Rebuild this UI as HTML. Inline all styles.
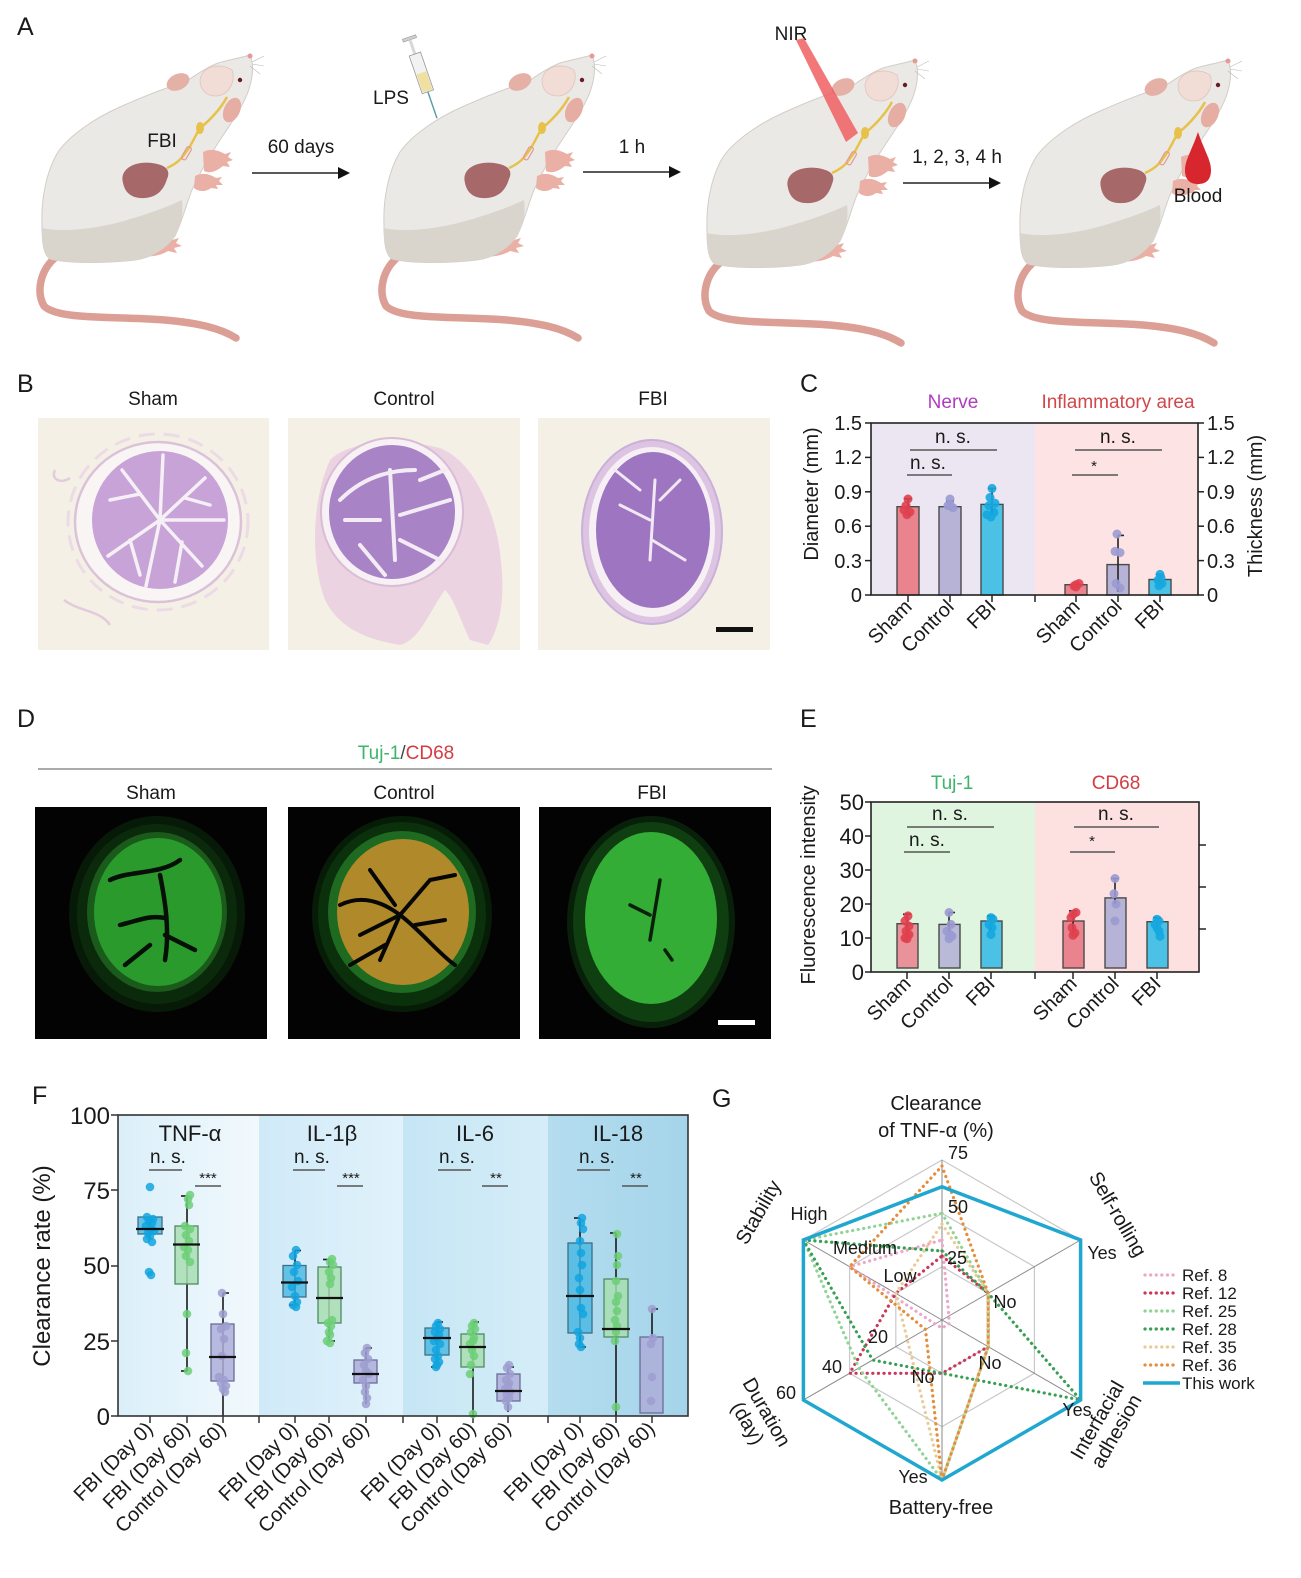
<!DOCTYPE html>
<html><head><meta charset="utf-8"><style>
html,body{margin:0;padding:0;background:#fff}
svg{display:block}
text{font-family:"Liberation Sans",Arial,sans-serif;fill:#1a1a1a}
</style></head><body>
<svg width="1301" height="1578" viewBox="0 0 1301 1578" xmlns="http://www.w3.org/2000/svg">
<defs>
<g id="rat">
<path d="M56,257 C40,270 36,292 44,306 C58,320 112,316 165,320 C198,323 220,328 236,338" fill="none" stroke="#dc9f95" stroke-width="7.5" stroke-linecap="round"/>
<path d="M140,245 C150,238 165,236 172,240 L179,238 L176,243 L182,246 L174,248 L177,253 L168,251 C160,256 148,258 140,255 Z" fill="#eab0a6"/>
<path d="M250,55 C240,58 228,60 218,63 C205,68 195,76 185,82 C165,88 140,98 120,107 C95,118 70,135 58,152 C46,172 41,200 42,225 C42,245 44,255 50,259 C70,264 110,263 135,260 C150,258 165,250 175,236 C182,222 186,205 192,190 C200,172 210,155 220,140 C230,125 242,108 248,92 C253,78 254,65 250,55 Z" fill="#ebe9e6" stroke="#d2cdc6"/>
<path d="M42,228 C60,232 90,230 120,222 C145,215 165,208 182,200 C184,215 180,228 175,236 C165,250 150,258 135,260 C110,263 70,264 50,259 C44,255 42,245 42,228 Z" fill="#dad5cc"/>
<path d="M203,152 C210,148 218,150 225,154 L231,152 L228,157 L233,160 L227,162 L230,167 L223,166 C217,171 210,174 204,171 Z" fill="#eab0a6"/>
<path d="M195,176 C202,172 210,174 216,178 L222,177 L219,181 L223,185 L216,185 L218,189 L211,188 C206,192 199,192 194,188 Z" fill="#eab0a6"/>
<ellipse cx="178" cy="82" rx="12" ry="8" transform="rotate(-25 178 82)" fill="#e5b1a7"/>
<path d="M200,80 C202,66 220,62 232,70 C236,80 230,95 216,96 C206,96 200,90 200,80 Z" fill="#f1dcd6" stroke="#e0c4bc" stroke-width="0.8"/>
<ellipse cx="232" cy="110" rx="8" ry="13" transform="rotate(25 232 110)" fill="#e6ada3"/>
<circle cx="240" cy="80" r="2.2" fill="#6a1a20"/>
<circle cx="250" cy="56" r="2.5" fill="#e59a98"/>
<path d="M227,97 C220,110 208,122 200,128 C194,138 190,148 186,152 C182,158 178,163 167,168" fill="none" stroke="#e6c24a" stroke-width="2.5"/>
<ellipse cx="200" cy="128" rx="4" ry="6" fill="#e6c24a"/>
<rect x="184" y="146" width="5" height="14" rx="2" fill="none" stroke="#e39a9a" stroke-width="1.2" transform="rotate(30 186 153)"/>
<path d="M123,183 C119,168 136,161 152,163 C166,165 171,170 167,179 C164,189 158,197 145,198 C132,199 125,193 123,183 Z" fill="#a66868"/>
<path d="M252,62 l12,-6 M252,64 l12,2 M250,66 l10,8" stroke="#bbb" stroke-width="0.6" fill="none"/>
</g>
<linearGradient id="f1" x1="0" x2="1" y1="0" y2="0"><stop offset="0" stop-color="#dbeff9"/><stop offset="1" stop-color="#f1f9fd"/></linearGradient>
<linearGradient id="f2" x1="0" x2="1" y1="0" y2="0"><stop offset="0" stop-color="#d0eaf8"/><stop offset="1" stop-color="#e1f2fb"/></linearGradient>
<linearGradient id="f3" x1="0" x2="1" y1="0" y2="0"><stop offset="0" stop-color="#c6e6f5"/><stop offset="1" stop-color="#d5edf8"/></linearGradient>
<linearGradient id="f4" x1="0" x2="1" y1="0" y2="0"><stop offset="0" stop-color="#b4ddef"/><stop offset="1" stop-color="#a5d4ea"/></linearGradient>
</defs>

<!-- ===== Panel A ===== -->
<text x="17" y="35" font-size="25">A</text>
<use href="#rat"/>
<use href="#rat" transform="translate(342,0)"/>
<use href="#rat" transform="translate(665,5)"/>
<use href="#rat" transform="translate(978,5)"/>
<text x="162" y="147" font-size="19" text-anchor="middle">FBI</text>
<text x="301" y="153" font-size="19" text-anchor="middle">60 days</text>
<line x1="252" y1="173" x2="340" y2="173" stroke="#222" stroke-width="1.6"/>
<polygon points="338,167 350,173 338,179" fill="#111"/>
<text x="391" y="104" font-size="19" text-anchor="middle">LPS</text>
<g transform="translate(409,37) rotate(-19)">
<rect x="-7" y="0" width="14" height="3" fill="#cfcfcf" stroke="#999" stroke-width="0.6"/>
<rect x="-1.5" y="3" width="3" height="15" fill="#d8d8d8"/>
<rect x="-6" y="18" width="12" height="40" fill="#f2f2f2" stroke="#9a9a9a" stroke-width="0.8"/>
<rect x="-5" y="38" width="10" height="19" fill="#f0e0a0"/>
<rect x="-0.7" y="58" width="1.4" height="28" fill="#5a9aa0"/>
</g>
<text x="632" y="153" font-size="19" text-anchor="middle">1 h</text>
<line x1="583" y1="172" x2="671" y2="172" stroke="#222" stroke-width="1.6"/>
<polygon points="669,166 681,172 669,178" fill="#111"/>
<text x="791" y="40" font-size="19" text-anchor="middle">NIR</text>
<polygon points="796,40 804,38 858,133 846,142" fill="#ef5f62" fill-opacity="0.85"/>
<text x="957" y="163" font-size="19" text-anchor="middle">1, 2, 3, 4 h</text>
<line x1="903" y1="183" x2="991" y2="183" stroke="#222" stroke-width="1.6"/>
<polygon points="989,177 1001,183 989,189" fill="#111"/>
<path d="M1198,132 C1192,150 1185,160 1185,170 C1185,180 1190,184 1198,184 C1206,184 1211,180 1211,170 C1211,160 1204,150 1198,132 Z" fill="#d8262e"/>
<text x="1198" y="202" font-size="19" text-anchor="middle">Blood</text>

<!-- ===== Panel B ===== -->
<text x="17" y="392" font-size="25">B</text>
<text x="153" y="405" font-size="19" text-anchor="middle">Sham</text>
<text x="404" y="405" font-size="19" text-anchor="middle">Control</text>
<text x="653" y="405" font-size="19" text-anchor="middle">FBI</text>
<rect x="38" y="418" width="231" height="232" fill="#f5f0e6"/>
<rect x="288" y="418" width="232" height="232" fill="#f5f0e6"/>
<rect x="538" y="418" width="232" height="232" fill="#f5f0e6"/>
<!-- sham -->
<ellipse cx="158" cy="522" rx="90" ry="88" fill="none" stroke="#ecdbe6" stroke-width="3" stroke-dasharray="16 9"/>
<ellipse cx="158" cy="522" rx="83" ry="80" fill="#f9f5f4" stroke="#dcc2d8" stroke-width="2.5"/>
<ellipse cx="160" cy="520" rx="68" ry="69" fill="#c7a3d7"/>
<g stroke="#f6f0f6" stroke-width="3.5" fill="none" stroke-linecap="round">
<path d="M160,520 L122,470 M160,520 L205,478 M160,520 L108,556 M160,520 L202,566 M160,520 L163,455 M160,520 L146,586 M160,520 L224,520 M140,494 L110,500 M185,498 L210,505 M130,540 L140,575 M182,542 L175,582"/>
</g>
<path d="M55,470 C50,480 62,484 70,478 M64,600 C80,612 100,610 110,625" stroke="#e2cbdd" stroke-width="2.5" fill="none"/>
<!-- control -->
<path d="M330,460 C350,440 400,438 440,448 C470,460 490,500 498,540 C505,580 505,620 488,645 L470,640 C460,620 455,600 445,590 C430,610 420,640 400,645 C370,640 340,630 325,600 C310,560 312,500 330,460 Z" fill="#ecd3e2"/>
<ellipse cx="392" cy="512" rx="71" ry="74" fill="#f7f0f4" stroke="#d9bcd6" stroke-width="2"/>
<ellipse cx="392" cy="512" rx="63" ry="67" fill="#a884c7"/>
<g stroke="#f4ecf4" stroke-width="4" fill="none" stroke-linecap="round">
<path d="M340,500 C360,480 385,470 415,470 M390,470 L395,560 M345,520 L380,520 M400,515 L450,500 M400,540 L440,560 M360,545 L385,575 M420,480 L445,470"/>
</g>
<!-- fbi -->
<ellipse cx="652" cy="532" rx="70" ry="92" fill="#dcc4e2" stroke="#c9b0d8" stroke-width="2"/>
<ellipse cx="652" cy="532" rx="63" ry="85" fill="#f6eff4"/>
<ellipse cx="653" cy="530" rx="57" ry="78" fill="#9e75c1"/>
<g stroke="#f1e8f3" stroke-width="3" fill="none" stroke-linecap="round">
<path d="M655,480 L650,560 M650,520 L620,505 M652,540 L685,560 M660,500 L680,480 M615,470 L640,490"/>
</g>
<rect x="716" y="627" width="37" height="5" fill="#111"/>

<!-- ===== Panel C ===== -->
<text x="800" y="392" font-size="25">C</text>
<text x="953" y="408" font-size="19" text-anchor="middle" style="fill:#b03cc0">Nerve</text>
<text x="1118" y="408" font-size="19" text-anchor="middle" style="fill:#d2474b">Inflammatory area</text>
<rect x="871" y="423" width="164" height="172" fill="#ebe6f1"/>
<rect x="1035" y="423" width="163" height="172" fill="#fde3e3"/>
<g stroke="#222" stroke-width="1.5">
<line x1="865" y1="423" x2="871" y2="423"/><line x1="865" y1="457.4" x2="871" y2="457.4"/><line x1="865" y1="491.8" x2="871" y2="491.8"/><line x1="865" y1="526.2" x2="871" y2="526.2"/><line x1="865" y1="560.6" x2="871" y2="560.6"/><line x1="865" y1="595" x2="871" y2="595"/>
<line x1="1198" y1="423" x2="1204" y2="423"/><line x1="1198" y1="457.4" x2="1204" y2="457.4"/><line x1="1198" y1="491.8" x2="1204" y2="491.8"/><line x1="1198" y1="526.2" x2="1204" y2="526.2"/><line x1="1198" y1="560.6" x2="1204" y2="560.6"/><line x1="1198" y1="595" x2="1204" y2="595"/>
<line x1="908" y1="595" x2="908" y2="602"/><line x1="950" y1="595" x2="950" y2="602"/><line x1="992" y1="595" x2="992" y2="602"/><line x1="1035" y1="595" x2="1035" y2="602"/><line x1="1076" y1="595" x2="1076" y2="602"/><line x1="1118" y1="595" x2="1118" y2="602"/><line x1="1160" y1="595" x2="1160" y2="602"/>
</g>
<g font-size="20" text-anchor="end">
<text x="862" y="430">1.5</text><text x="862" y="464">1.2</text><text x="862" y="499">0.9</text><text x="862" y="533">0.6</text><text x="862" y="568">0.3</text><text x="862" y="602">0</text>
</g>
<g font-size="20">
<text x="1207" y="430">1.5</text><text x="1207" y="464">1.2</text><text x="1207" y="499">0.9</text><text x="1207" y="533">0.6</text><text x="1207" y="568">0.3</text><text x="1207" y="602">0</text>
</g>
<text transform="translate(818,494) rotate(-90)" font-size="20" text-anchor="middle">Diameter (mm)</text>
<text transform="translate(1262,506) rotate(-90)" font-size="20" text-anchor="middle">Thickness (mm)</text>
<g stroke="#4a4a4a" stroke-width="1.4">
<rect x="897" y="506.7" width="22" height="88.3" fill="#e9848f"/>
<rect x="939" y="506.7" width="22" height="88.3" fill="#b6b3d6"/>
<rect x="981" y="504.4" width="22" height="90.6" fill="#4cc1e6"/>
<rect x="1065" y="584.7" width="22" height="10.3" fill="#e9848f"/>
<rect x="1107" y="564.6" width="22" height="30.4" fill="#b6b3d6"/>
<rect x="1149" y="579.5" width="22" height="15.5" fill="#4cc1e6"/>
</g>
<g stroke="#222" stroke-width="1.6">
<line x1="908" y1="514.7" x2="908" y2="498.7"/><line x1="904" y1="498.7" x2="912" y2="498.7"/>
<line x1="950" y1="510" x2="950" y2="501"/><line x1="946" y1="501" x2="954" y2="501"/>
<line x1="992" y1="514.7" x2="992" y2="488.4"/><line x1="988" y1="488.4" x2="996" y2="488.4"/>
<line x1="1118" y1="592" x2="1118" y2="535.4"/><line x1="1118" y1="535.4" x2="1124" y2="535.4"/>
<line x1="1160" y1="584.7" x2="1160" y2="574.4"/><line x1="1156" y1="574.4" x2="1164" y2="574.4"/>
</g>
<g fill="#e0404f" fill-opacity="0.9"><circle cx="908" cy="499" r="4.5"/><circle cx="906" cy="505.6" r="4.5"/><circle cx="910" cy="512" r="4.5"/><circle cx="907" cy="514.7" r="4.5"/><circle cx="904" cy="510" r="4.5"/>
<circle cx="1076" cy="584.7" r="4.5"/><circle cx="1074" cy="586" r="4.5"/><circle cx="1079" cy="583.5" r="4.5"/><circle cx="1076" cy="587" r="4.5"/></g>
<g fill="#9b9ad1" fill-opacity="0.9"><circle cx="950" cy="499" r="4.5"/><circle cx="948" cy="505.6" r="4.5"/><circle cx="953" cy="507.8" r="4.5"/><circle cx="950" cy="504.4" r="4.5"/>
<circle cx="1117" cy="534" r="4.5"/><circle cx="1115" cy="551.4" r="4.5"/><circle cx="1120" cy="552.6" r="4.5"/><circle cx="1116" cy="583.5" r="4.5"/><circle cx="1120" cy="588" r="4.5"/></g>
<g fill="#16a7df" fill-opacity="0.9"><circle cx="992" cy="488.4" r="4.5"/><circle cx="990" cy="497.5" r="4.5"/><circle cx="995" cy="503.3" r="4.5"/><circle cx="989" cy="505.6" r="4.5"/><circle cx="994" cy="512.4" r="4.5"/><circle cx="991" cy="517" r="4.5"/><circle cx="987" cy="514.7" r="4.5"/>
<circle cx="1160" cy="574.4" r="4.5"/><circle cx="1158" cy="580.1" r="4.5"/><circle cx="1162" cy="583.5" r="4.5"/><circle cx="1159" cy="585.8" r="4.5"/><circle cx="1161" cy="577.8" r="4.5"/></g>
<rect x="871" y="423" width="327" height="172" fill="none" stroke="#222" stroke-width="1.6"/>
<g stroke="#555" stroke-width="1.5">
<line x1="910" y1="450" x2="997" y2="450"/><line x1="907" y1="475" x2="952" y2="475"/>
<line x1="1075" y1="450" x2="1162" y2="450"/><line x1="1072" y1="475" x2="1118" y2="475"/>
</g>
<g font-size="19" text-anchor="middle">
<text x="953" y="443">n. s.</text><text x="928" y="469">n. s.</text>
<text x="1118" y="443">n. s.</text><text x="1094" y="471" font-size="15">*</text>
</g>
<g font-size="20" text-anchor="end">
<text transform="translate(913,608) rotate(-45)">Sham</text>
<text transform="translate(955,608) rotate(-45)">Control</text>
<text transform="translate(997,608) rotate(-45)">FBI</text>
<text transform="translate(1081,608) rotate(-45)">Sham</text>
<text transform="translate(1123,608) rotate(-45)">Control</text>
<text transform="translate(1165,608) rotate(-45)">FBI</text>
</g>

<!-- ===== Panel D ===== -->
<text x="17" y="727" font-size="25">D</text>
<text x="406" y="759" font-size="19" text-anchor="middle"><tspan style="fill:#3cb46a">Tuj-1</tspan><tspan style="fill:#444">/</tspan><tspan style="fill:#d43c42">CD68</tspan></text>
<line x1="38" y1="769" x2="772" y2="769" stroke="#777" stroke-width="1.3"/>
<text x="151" y="799" font-size="19" text-anchor="middle">Sham</text>
<text x="404" y="799" font-size="19" text-anchor="middle">Control</text>
<text x="652" y="799" font-size="19" text-anchor="middle">FBI</text>
<rect x="35" y="807" width="232" height="232" fill="#040303"/>
<rect x="288" y="807" width="232" height="232" fill="#040303"/>
<rect x="539" y="807" width="232" height="232" fill="#040303"/>
<ellipse cx="157" cy="914" rx="88" ry="98" fill="#071a07"/>
<ellipse cx="157" cy="914" rx="80" ry="90" fill="#0b2a0b"/>
<ellipse cx="157" cy="912" rx="70" ry="80" fill="#1a5a1a"/>
<ellipse cx="158" cy="912" rx="64" ry="74" fill="#2a9a2c"/>
<g stroke="#061006" stroke-width="4.5" fill="none" stroke-linecap="round">
<path d="M110,880 C130,870 160,875 180,860 M160,875 C165,900 170,930 165,960 M120,925 C140,920 150,915 165,918 M165,935 L195,950 M150,945 L125,965"/>
</g>
<ellipse cx="402" cy="914" rx="90" ry="98" fill="#071c07"/>
<ellipse cx="402" cy="914" rx="84" ry="92" fill="#0b300c"/>
<ellipse cx="402" cy="912" rx="74" ry="81" fill="#1e6a20"/>
<ellipse cx="403" cy="912" rx="66" ry="73" fill="#b08a2a"/>
<g stroke="#070806" stroke-width="4" fill="none" stroke-linecap="round">
<path d="M340,905 C360,895 380,900 400,915 C420,930 440,955 455,965 M400,915 L380,960 M400,915 L430,880 M400,915 L360,935 M370,870 L395,905 M415,925 L445,920 M385,945 L350,965 M430,880 L455,875"/>
</g>
<ellipse cx="651" cy="922" rx="84" ry="106" fill="#08200a"/>
<ellipse cx="651" cy="922" rx="78" ry="100" fill="#0f3e10"/>
<ellipse cx="651" cy="918" rx="66" ry="86" fill="#33ad35"/>
<g stroke="#0a200a" stroke-width="3.5" fill="none" stroke-linecap="round">
<path d="M660,880 L650,940 M650,915 L630,905 M665,950 L672,960"/>
</g>
<rect x="718" y="1020" width="37" height="5" fill="#fff"/>

<!-- ===== Panel E ===== -->
<text x="800" y="727" font-size="25">E</text>
<text x="952" y="789" font-size="19" text-anchor="middle" style="fill:#3cb46a">Tuj-1</text>
<text x="1116" y="789" font-size="19" text-anchor="middle" style="fill:#d43c42">CD68</text>
<rect x="871" y="802" width="164" height="170" fill="#dff5df"/>
<rect x="1035" y="802" width="164" height="170" fill="#fde1e1"/>
<g stroke="#222" stroke-width="1.5">
<line x1="865" y1="802" x2="871" y2="802"/><line x1="865" y1="836" x2="871" y2="836"/><line x1="865" y1="870" x2="871" y2="870"/><line x1="865" y1="904" x2="871" y2="904"/><line x1="865" y1="938" x2="871" y2="938"/><line x1="865" y1="972" x2="871" y2="972"/>
<line x1="1199" y1="845" x2="1206" y2="845"/><line x1="1199" y1="887" x2="1206" y2="887"/><line x1="1199" y1="929" x2="1206" y2="929"/>
<line x1="907" y1="972" x2="907" y2="979"/><line x1="949" y1="972" x2="949" y2="979"/><line x1="991" y1="972" x2="991" y2="979"/><line x1="1035" y1="972" x2="1035" y2="979"/><line x1="1073" y1="972" x2="1073" y2="979"/><line x1="1115" y1="972" x2="1115" y2="979"/><line x1="1157" y1="972" x2="1157" y2="979"/>
</g>
<g font-size="22" text-anchor="end">
<text x="864" y="810">50</text><text x="864" y="844">40</text><text x="864" y="878">30</text><text x="864" y="912">20</text><text x="864" y="946">10</text><text x="864" y="980">0</text>
</g>
<text transform="translate(815,885) rotate(-90)" font-size="20" text-anchor="middle">Fluorescence intensity</text>
<g stroke="#4a4a4a" stroke-width="1.4">
<rect x="897" y="923.7" width="21" height="44.3" fill="#e9929a"/>
<rect x="939" y="924.4" width="21" height="43.6" fill="#b9bad8"/>
<rect x="981" y="921" width="21" height="47" fill="#4cc1e6"/>
<rect x="1063" y="921" width="21" height="47" fill="#e9848f"/>
<rect x="1105" y="897.9" width="21" height="70.1" fill="#b6b3d6"/>
<rect x="1147" y="921.7" width="21" height="46.3" fill="#4cc1e6"/>
</g>
<g stroke="#222" stroke-width="1.6">
<line x1="907" y1="934.6" x2="907" y2="914.2"/><line x1="903" y1="914.2" x2="911" y2="914.2"/>
<line x1="949" y1="938" x2="949" y2="912.5"/><line x1="949" y1="912.5" x2="955" y2="912.5"/>
<line x1="991" y1="929.5" x2="991" y2="915.9"/><line x1="987" y1="915.9" x2="995" y2="915.9"/>
<line x1="1073" y1="931.2" x2="1073" y2="910.8"/><line x1="1069" y1="910.8" x2="1077" y2="910.8"/>
<line x1="1115" y1="904" x2="1115" y2="878.5"/><line x1="1111" y1="878.5" x2="1119" y2="878.5"/>
<line x1="1157" y1="929.5" x2="1157" y2="917.6"/><line x1="1153" y1="917.6" x2="1161" y2="917.6"/>
</g>
<g fill="#e0404f" fill-opacity="0.9"><circle cx="908" cy="915.9" r="4.5"/><circle cx="905" cy="921" r="4.5"/><circle cx="909" cy="926.1" r="4.5"/><circle cx="906" cy="931.2" r="4.5"/><circle cx="909" cy="934.6" r="4.5"/><circle cx="905" cy="938" r="4.5"/><circle cx="907" cy="938.7" r="4.5"/>
<circle cx="1076" cy="912.5" r="4.5"/><circle cx="1073" cy="914.2" r="4.5"/><circle cx="1071" cy="917.6" r="4.5"/><circle cx="1072" cy="927.8" r="4.5"/><circle cx="1075" cy="932.9" r="4.5"/><circle cx="1073" cy="935.3" r="4.5"/></g>
<g fill="#9b9ad1" fill-opacity="0.9"><circle cx="949" cy="912.5" r="4.5"/><circle cx="951" cy="924.4" r="4.5"/><circle cx="947" cy="931.2" r="4.5"/><circle cx="950" cy="934.6" r="4.5"/><circle cx="952" cy="936.3" r="4.5"/><circle cx="949" cy="938.7" r="4.5"/>
<circle cx="1115" cy="878.5" r="4.5"/><circle cx="1114" cy="893.8" r="4.5"/><circle cx="1116" cy="904" r="4.5"/><circle cx="1115" cy="921" r="4.5"/></g>
<g fill="#16a7df" fill-opacity="0.9"><circle cx="991" cy="917.6" r="4.5"/><circle cx="993" cy="919.3" r="4.5"/><circle cx="989" cy="924.4" r="4.5"/><circle cx="992" cy="927.8" r="4.5"/><circle cx="991" cy="934.6" r="4.5"/>
<circle cx="1157" cy="919.3" r="4.5"/><circle cx="1159" cy="921" r="4.5"/><circle cx="1155" cy="924.4" r="4.5"/><circle cx="1157" cy="927.8" r="4.5"/><circle cx="1159" cy="931.2" r="4.5"/><circle cx="1160" cy="936.3" r="4.5"/></g>
<rect x="871" y="802" width="328" height="170" fill="none" stroke="#222" stroke-width="1.6"/>
<g stroke="#555" stroke-width="1.5">
<line x1="907" y1="827" x2="994" y2="827"/><line x1="904" y1="852" x2="950" y2="852"/>
<line x1="1074" y1="827" x2="1159" y2="827"/><line x1="1070" y1="852" x2="1115" y2="852"/>
</g>
<g font-size="19" text-anchor="middle">
<text x="950" y="820">n. s.</text><text x="927" y="846">n. s.</text>
<text x="1116" y="820">n. s.</text><text x="1092" y="846" font-size="15">*</text>
</g>
<g font-size="20" text-anchor="end">
<text transform="translate(912,985) rotate(-45)">Sham</text>
<text transform="translate(954,985) rotate(-45)">Control</text>
<text transform="translate(996,985) rotate(-45)">FBI</text>
<text transform="translate(1078,985) rotate(-45)">Sham</text>
<text transform="translate(1120,985) rotate(-45)">Control</text>
<text transform="translate(1162,985) rotate(-45)">FBI</text>
</g>

<!-- ===== Panel F ===== -->
<text x="32" y="1104" font-size="25">F</text>
<rect x="118" y="1115" width="141" height="301" fill="url(#f1)"/>
<rect x="259" y="1115" width="144" height="301" fill="url(#f2)"/>
<rect x="403" y="1115" width="145" height="301" fill="url(#f3)"/>
<rect x="548" y="1115" width="140" height="301" fill="url(#f4)"/>
<g font-size="24" text-anchor="end">
<text x="110" y="1124">100</text><text x="110" y="1199">75</text><text x="110" y="1274">50</text><text x="110" y="1350">25</text><text x="110" y="1425">0</text>
</g>
<g stroke="#333" stroke-width="1.5">
<line x1="111" y1="1115" x2="118" y2="1115"/><line x1="111" y1="1190" x2="118" y2="1190"/><line x1="111" y1="1266" x2="118" y2="1266"/><line x1="111" y1="1341" x2="118" y2="1341"/><line x1="111" y1="1416" x2="118" y2="1416"/>
<line x1="150" y1="1416" x2="150" y2="1423"/><line x1="187" y1="1416" x2="187" y2="1423"/><line x1="223" y1="1416" x2="223" y2="1423"/><line x1="259" y1="1416" x2="259" y2="1423"/><line x1="295" y1="1416" x2="295" y2="1423"/><line x1="329" y1="1416" x2="329" y2="1423"/><line x1="366" y1="1416" x2="366" y2="1423"/><line x1="403" y1="1416" x2="403" y2="1423"/><line x1="437" y1="1416" x2="437" y2="1423"/><line x1="473" y1="1416" x2="473" y2="1423"/><line x1="508" y1="1416" x2="508" y2="1423"/><line x1="548" y1="1416" x2="548" y2="1423"/><line x1="580" y1="1416" x2="580" y2="1423"/><line x1="616" y1="1416" x2="616" y2="1423"/><line x1="652" y1="1416" x2="652" y2="1423"/>
</g>
<text transform="translate(50,1266) rotate(-90)" font-size="24" text-anchor="middle">Clearance rate (%)</text>
<g font-size="22" text-anchor="middle">
<text x="190" y="1141">TNF-α</text><text x="332" y="1141">IL-1β</text><text x="475" y="1141">IL-6</text><text x="618" y="1141">IL-18</text>
</g>
<g font-size="19" text-anchor="middle">
<text x="168" y="1163">n. s.</text><text x="312" y="1163">n. s.</text><text x="457" y="1163">n. s.</text><text x="597" y="1163">n. s.</text>
</g>
<g font-size="15" text-anchor="middle">
<text x="208" y="1183">***</text><text x="351" y="1183">***</text><text x="496" y="1183">**</text><text x="636" y="1183">**</text>
</g>
<g stroke="#555" stroke-width="1.5">
<line x1="149" y1="1170" x2="182" y2="1170"/><line x1="195" y1="1186" x2="221" y2="1186"/>
<line x1="293" y1="1170" x2="325" y2="1170"/><line x1="337" y1="1186" x2="363" y2="1186"/>
<line x1="438" y1="1170" x2="471" y2="1170"/><line x1="482" y1="1186" x2="508" y2="1186"/>
<line x1="577" y1="1170" x2="610" y2="1170"/><line x1="622" y1="1186" x2="648" y2="1186"/>
</g>
<g stroke="#1a1a1a" stroke-width="1.6">
<line x1="150" y1="1217" x2="150" y2="1239"/>
<line x1="187" y1="1196" x2="187" y2="1371"/><line x1="181" y1="1196" x2="187" y2="1196"/><line x1="181" y1="1371" x2="187" y2="1371"/>
<line x1="223" y1="1293" x2="223" y2="1416"/><line x1="223" y1="1293" x2="229" y2="1293"/>
<line x1="295" y1="1250.5" x2="295" y2="1305"/><line x1="295" y1="1250.5" x2="301" y2="1250.5"/><line x1="289" y1="1305" x2="295" y2="1305"/>
<line x1="329" y1="1259.5" x2="329" y2="1341"/><line x1="323" y1="1259.5" x2="329" y2="1259.5"/><line x1="329" y1="1341" x2="335" y2="1341"/>
<line x1="366" y1="1348" x2="366" y2="1404"/><line x1="366" y1="1348" x2="372" y2="1348"/>
<line x1="437" y1="1322" x2="437" y2="1367"/><line x1="437" y1="1322" x2="443" y2="1322"/><line x1="431" y1="1367" x2="437" y2="1367"/>
<line x1="473" y1="1322" x2="473" y2="1416"/><line x1="473" y1="1322" x2="479" y2="1322"/>
<line x1="508" y1="1367" x2="508" y2="1412"/><line x1="508" y1="1367" x2="514" y2="1367"/>
<line x1="580" y1="1218" x2="580" y2="1347"/><line x1="574" y1="1218" x2="580" y2="1218"/><line x1="580" y1="1347" x2="586" y2="1347"/>
<line x1="616" y1="1233" x2="616" y2="1416"/><line x1="610" y1="1233" x2="616" y2="1233"/>
<line x1="652" y1="1309" x2="652" y2="1337"/><line x1="652" y1="1309" x2="658" y2="1309"/>
</g>
<g fill="#45b7e2" fill-opacity="0.8" stroke="#3d6f86" stroke-width="1.3">
<rect x="138" y="1217" width="24" height="17"/><rect x="283" y="1265.5" width="23" height="31.5"/><rect x="425" y="1328" width="24" height="27"/><rect x="568" y="1243" width="24" height="90"/>
</g>
<g fill="#a8deb2" fill-opacity="0.85" stroke="#4f8a62" stroke-width="1.3">
<rect x="175" y="1226" width="23" height="58"/><rect x="318" y="1267" width="23" height="56"/><rect x="461" y="1334" width="23" height="33"/><rect x="604" y="1279" width="24" height="58"/>
</g>
<g fill="#aeaed8" fill-opacity="0.85" stroke="#6c6c98" stroke-width="1.3">
<rect x="211" y="1324" width="23" height="57"/><rect x="354" y="1360" width="23" height="23"/><rect x="497" y="1374" width="23" height="27"/><rect x="640" y="1337" width="23" height="76"/>
</g>
<g fill="#12a5df" fill-opacity="0.85">
<circle cx="150" cy="1187" r="4.3"/><circle cx="147" cy="1217" r="4.3"/><circle cx="153" cy="1219" r="4.3"/><circle cx="149" cy="1221" r="4.3"/><circle cx="152" cy="1223" r="4.3"/><circle cx="146" cy="1226" r="4.3"/><circle cx="151" cy="1229" r="4.3"/><circle cx="154" cy="1231" r="4.3"/><circle cx="148" cy="1233" r="4.3"/><circle cx="150" cy="1236" r="4.3"/><circle cx="147" cy="1239" r="4.3"/><circle cx="152" cy="1242" r="4.3"/><circle cx="149" cy="1272" r="4.3"/><circle cx="151" cy="1275" r="4.3"/>
<circle cx="296" cy="1250" r="4.3"/><circle cx="293" cy="1256" r="4.3"/><circle cx="297" cy="1265" r="4.3"/><circle cx="294" cy="1272" r="4.3"/><circle cx="298" cy="1281" r="4.3"/><circle cx="292" cy="1287" r="4.3"/><circle cx="295" cy="1296" r="4.3"/><circle cx="297" cy="1302" r="4.3"/><circle cx="293" cy="1305" r="4.3"/><circle cx="296" cy="1307" r="4.3"/>
<circle cx="438" cy="1323" r="4.3"/><circle cx="436" cy="1326" r="4.3"/><circle cx="440" cy="1329" r="4.3"/><circle cx="435" cy="1332" r="4.3"/><circle cx="439" cy="1335" r="4.3"/><circle cx="437" cy="1338" r="4.3"/><circle cx="434" cy="1341" r="4.3"/><circle cx="440" cy="1344" r="4.3"/><circle cx="436" cy="1350" r="4.3"/><circle cx="438" cy="1356" r="4.3"/><circle cx="435" cy="1359" r="4.3"/><circle cx="439" cy="1362" r="4.3"/><circle cx="437" cy="1365" r="4.3"/><circle cx="436" cy="1367" r="4.3"/>
<circle cx="582" cy="1218" r="4.3"/><circle cx="581" cy="1223" r="4.3"/><circle cx="583" cy="1229" r="4.3"/><circle cx="580" cy="1241" r="4.3"/><circle cx="581" cy="1253" r="4.3"/><circle cx="582" cy="1265" r="4.3"/><circle cx="579" cy="1278" r="4.3"/><circle cx="580" cy="1290" r="4.3"/><circle cx="581" cy="1308" r="4.3"/><circle cx="583" cy="1314" r="4.3"/><circle cx="578" cy="1332" r="4.3"/><circle cx="580" cy="1338" r="4.3"/><circle cx="579" cy="1344" r="4.3"/><circle cx="581" cy="1347" r="4.3"/>
</g>
<g fill="#6ccf77" fill-opacity="0.85">
<circle cx="190" cy="1195" r="4.3"/><circle cx="188" cy="1199" r="4.3"/><circle cx="189" cy="1205" r="4.3"/><circle cx="185" cy="1226" r="4.3"/><circle cx="190" cy="1229" r="4.3"/><circle cx="186" cy="1235" r="4.3"/><circle cx="189" cy="1241" r="4.3"/><circle cx="184" cy="1247" r="4.3"/><circle cx="188" cy="1250" r="4.3"/><circle cx="186" cy="1256" r="4.3"/><circle cx="190" cy="1262" r="4.3"/><circle cx="187" cy="1314" r="4.3"/><circle cx="186" cy="1353" r="4.3"/><circle cx="188" cy="1371" r="4.3"/>
<circle cx="332" cy="1259" r="4.3"/><circle cx="330" cy="1262" r="4.3"/><circle cx="333" cy="1265" r="4.3"/><circle cx="329" cy="1272" r="4.3"/><circle cx="331" cy="1278" r="4.3"/><circle cx="330" cy="1284" r="4.3"/><circle cx="332" cy="1320" r="4.3"/><circle cx="328" cy="1323" r="4.3"/><circle cx="331" cy="1326" r="4.3"/><circle cx="329" cy="1332" r="4.3"/><circle cx="330" cy="1335" r="4.3"/><circle cx="327" cy="1341" r="4.3"/><circle cx="330" cy="1343" r="4.3"/>
<circle cx="474" cy="1323" r="4.3"/><circle cx="472" cy="1326" r="4.3"/><circle cx="475" cy="1329" r="4.3"/><circle cx="471" cy="1332" r="4.3"/><circle cx="474" cy="1338" r="4.3"/><circle cx="473" cy="1341" r="4.3"/><circle cx="470" cy="1344" r="4.3"/><circle cx="472" cy="1350" r="4.3"/><circle cx="474" cy="1356" r="4.3"/><circle cx="471" cy="1365" r="4.3"/><circle cx="470" cy="1374" r="4.3"/><circle cx="473" cy="1414" r="4.3"/>
<circle cx="617" cy="1234" r="4.3"/><circle cx="618" cy="1256" r="4.3"/><circle cx="617" cy="1265" r="4.3"/><circle cx="616" cy="1281" r="4.3"/><circle cx="618" cy="1296" r="4.3"/><circle cx="616" cy="1302" r="4.3"/><circle cx="617" cy="1311" r="4.3"/><circle cx="615" cy="1320" r="4.3"/><circle cx="617" cy="1326" r="4.3"/><circle cx="616" cy="1332" r="4.3"/><circle cx="615" cy="1341" r="4.3"/><circle cx="616" cy="1407" r="4.3"/>
</g>
<g fill="#9e9ed0" fill-opacity="0.85">
<circle cx="222" cy="1293" r="4.3"/><circle cx="223" cy="1314" r="4.3"/><circle cx="226" cy="1326" r="4.3"/><circle cx="221" cy="1329" r="4.3"/><circle cx="224" cy="1339" r="4.3"/><circle cx="222" cy="1356" r="4.3"/><circle cx="219" cy="1377" r="4.3"/><circle cx="224" cy="1380" r="4.3"/><circle cx="221" cy="1383" r="4.3"/><circle cx="226" cy="1386" r="4.3"/><circle cx="223" cy="1389" r="4.3"/><circle cx="225" cy="1392" r="4.3"/>
<circle cx="367" cy="1348" r="4.3"/><circle cx="365" cy="1353" r="4.3"/><circle cx="368" cy="1359" r="4.3"/><circle cx="364" cy="1365" r="4.3"/><circle cx="366" cy="1371" r="4.3"/><circle cx="369" cy="1374" r="4.3"/><circle cx="363" cy="1380" r="4.3"/><circle cx="366" cy="1386" r="4.3"/><circle cx="365" cy="1392" r="4.3"/><circle cx="367" cy="1398" r="4.3"/><circle cx="366" cy="1404" r="4.3"/>
<circle cx="509" cy="1365" r="4.3"/><circle cx="507" cy="1368" r="4.3"/><circle cx="510" cy="1374" r="4.3"/><circle cx="506" cy="1380" r="4.3"/><circle cx="509" cy="1383" r="4.3"/><circle cx="508" cy="1386" r="4.3"/><circle cx="505" cy="1389" r="4.3"/><circle cx="510" cy="1392" r="4.3"/><circle cx="507" cy="1395" r="4.3"/><circle cx="509" cy="1398" r="4.3"/><circle cx="506" cy="1401" r="4.3"/><circle cx="508" cy="1407" r="4.3"/>
<circle cx="652" cy="1309" r="4.3"/><circle cx="653" cy="1338" r="4.3"/><circle cx="651" cy="1344" r="4.3"/><circle cx="652" cy="1377" r="4.3"/><circle cx="651" cy="1401" r="4.3"/>
</g>
<g stroke="#111" stroke-width="2.2">
<line x1="136" y1="1229" x2="164" y2="1229"/><line x1="173" y1="1244.5" x2="200" y2="1244.5"/><line x1="209" y1="1357" x2="236" y2="1357"/>
<line x1="281" y1="1282.5" x2="308" y2="1282.5"/><line x1="316" y1="1298" x2="343" y2="1298"/><line x1="352" y1="1374" x2="379" y2="1374"/>
<line x1="423" y1="1338" x2="451" y2="1338"/><line x1="459" y1="1347" x2="486" y2="1347"/><line x1="495" y1="1391" x2="522" y2="1391"/>
<line x1="566" y1="1296" x2="594" y2="1296"/><line x1="602" y1="1329" x2="630" y2="1329"/>
</g>
<rect x="118" y="1115" width="570" height="301" fill="none" stroke="#333" stroke-width="1.6"/>
<g font-size="20" text-anchor="end">
<text transform="translate(154,1430) rotate(-45)">FBI (Day 0)</text>
<text transform="translate(191,1430) rotate(-45)">FBI (Day 60)</text>
<text transform="translate(227,1430) rotate(-45)">Control (Day 60)</text>
<text transform="translate(299,1430) rotate(-45)">FBI (Day 0)</text>
<text transform="translate(333,1430) rotate(-45)">FBI (Day 60)</text>
<text transform="translate(370,1430) rotate(-45)">Control (Day 60)</text>
<text transform="translate(441,1430) rotate(-45)">FBI (Day 0)</text>
<text transform="translate(477,1430) rotate(-45)">FBI (Day 60)</text>
<text transform="translate(512,1430) rotate(-45)">Control (Day 60)</text>
<text transform="translate(584,1430) rotate(-45)">FBI (Day 0)</text>
<text transform="translate(620,1430) rotate(-45)">FBI (Day 60)</text>
<text transform="translate(656,1430) rotate(-45)">Control (Day 60)</text>
</g>

<!-- ===== Panel G ===== -->
<text x="712" y="1107" font-size="25">G</text>
<g fill="none" stroke="#c9c9c9" stroke-width="1.2">
<polygon points="942,1160 1080.6,1240 1080.6,1400 942,1480 803.4,1400 803.4,1240"/>
<polygon points="942,1213.3 1034.4,1266.7 1034.4,1373.3 942,1426.7 849.6,1373.3 849.6,1266.7"/>
<polygon points="942,1266.7 988.2,1293.3 988.2,1346.7 942,1373.3 895.8,1346.7 895.8,1293.3"/>
</g>
<g stroke="#8a8a8a" stroke-width="1">
<line x1="942" y1="1320" x2="942" y2="1160"/><line x1="942" y1="1320" x2="1080.6" y2="1240"/><line x1="942" y1="1320" x2="1080.6" y2="1400"/><line x1="942" y1="1320" x2="942" y2="1480"/><line x1="942" y1="1320" x2="803.4" y2="1400"/><line x1="942" y1="1320" x2="803.4" y2="1240"/>
</g>
<g fill="none" stroke-width="3.2" stroke-dasharray="0.1 5.5" stroke-linecap="round">
<polygon stroke="#eca8c8" points="942,1240 948.9,1316 948.9,1324 942,1328 935.1,1324 849.6,1266.7"/>
<polygon stroke="#c8385a" points="942,1256 988.2,1293.3 988.2,1346.7 942,1373.3 849.6,1373.3 895.8,1293.3"/>
<polygon stroke="#8fd494" points="942,1213.3 988.2,1293.3 988.2,1346.7 942,1480 858.9,1368 803.4,1240"/>
<polygon stroke="#36a052" points="942,1251 988.2,1293.3 1080.6,1400 942,1373.3 872.7,1360 803.4,1240"/>
<polygon stroke="#e8cc98" points="942,1224 988.2,1293.3 988.2,1346.7 942,1480 907.4,1340 895.8,1293.3"/>
<polygon stroke="#e48e3c" points="942,1166 988.2,1293.3 988.2,1346.7 942,1480 925.5,1329.5 849.6,1266.7"/>
</g>
<polygon fill="none" stroke="#1fa7cf" stroke-width="3.5" stroke-linejoin="miter" points="942,1186.7 1080.6,1240 1080.6,1400 942,1480 803.4,1400 803.4,1240"/>
<g font-size="20" text-anchor="middle">
<text x="936" y="1110">Clearance</text>
<text x="936" y="1137">of TNF-α (%)</text>
<text x="941" y="1514">Battery-free</text>
<text transform="translate(758,1212) rotate(-60)" dy="7">Stability</text>
<text transform="translate(1118,1214) rotate(60)" dy="7">Self-rolling</text>
<text transform="translate(767,1412) rotate(60)" dy="7">Duration</text>
<text transform="translate(748,1423) rotate(60)" dy="7">(day)</text>
<text transform="translate(1097,1420) rotate(-60)" dy="7">Interfacial</text>
<text transform="translate(1116,1431) rotate(-60)" dy="7">adhesion</text>
</g>
<g font-size="18" text-anchor="middle">
<text x="958" y="1159">75</text><text x="958" y="1213">50</text><text x="957" y="1264">25</text>
<text x="809" y="1220">High</text><text x="865" y="1254">Medium</text><text x="900" y="1282">Low</text>
<text x="878" y="1343">20</text><text x="832" y="1373">40</text><text x="786" y="1399">60</text>
<text x="1102" y="1259">Yes</text><text x="1005" y="1308">No</text>
<text x="990" y="1369">No</text><text x="1077" y="1416">Yes</text>
<text x="923" y="1383">No</text><text x="913" y="1483">Yes</text>
</g>
<g stroke-width="3.2" stroke-dasharray="0.1 5.5" stroke-linecap="round">
<line x1="1145" y1="1275" x2="1178" y2="1275" stroke="#eca8c8"/>
<line x1="1145" y1="1293" x2="1178" y2="1293" stroke="#c8385a"/>
<line x1="1145" y1="1311" x2="1178" y2="1311" stroke="#8fd494"/>
<line x1="1145" y1="1329" x2="1178" y2="1329" stroke="#36a052"/>
<line x1="1145" y1="1347" x2="1178" y2="1347" stroke="#e8cc98"/>
<line x1="1145" y1="1365" x2="1178" y2="1365" stroke="#e48e3c"/>
</g>
<line x1="1143" y1="1383" x2="1180" y2="1383" stroke="#1fa7cf" stroke-width="3.5"/>
<g font-size="17">
<text x="1182" y="1281">Ref. 8</text><text x="1182" y="1299">Ref. 12</text><text x="1182" y="1317">Ref. 25</text><text x="1182" y="1335">Ref. 28</text><text x="1182" y="1353">Ref. 35</text><text x="1182" y="1371">Ref. 36</text><text x="1182" y="1389">This work</text>
</g>
</svg>
</body></html>
